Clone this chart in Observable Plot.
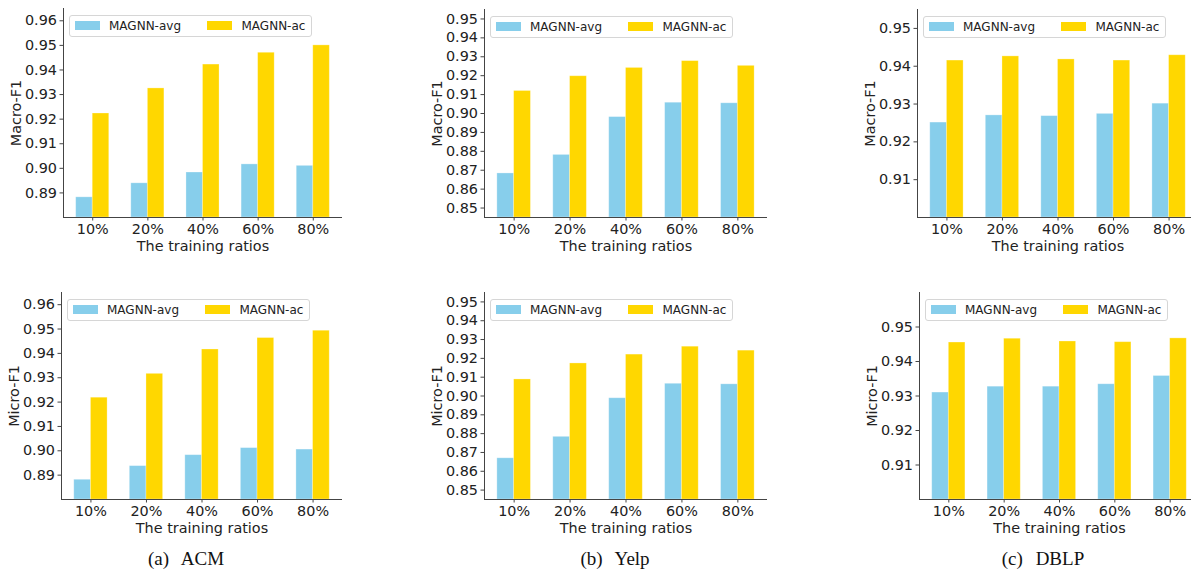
<!DOCTYPE html>
<html>
<head>
<meta charset="utf-8">
<script src="https://cdn.jsdelivr.net/npm/d3@7"></script>
<script src="https://cdn.jsdelivr.net/npm/@observablehq/plot@0.6"></script>
<style>
html, body { margin: 0; padding: 0; background: #fff; overflow: hidden; }
#root { position: relative; width: 1191px; height: 569px; overflow: hidden; font-family: "DejaVu Sans", sans-serif; }
.panel { position: absolute; }
.panel svg { max-width: none !important; }
.legend { position: absolute; box-sizing: border-box; height: 22px; border: 1px solid #d6d6d6; border-radius: 3px;
  background: rgba(255,255,255,0.85); display: flex; align-items: center; font-size: 12px; color: #222;
  padding-left: 4.5px; padding-right: 6px; }
.sw { width: 25px; height: 8.5px; flex: none; }
.lab { margin-left: 9.5px; white-space: nowrap; }
.lab + .sw { margin-left: 26px; }
.caption { position: absolute; font-family: "Liberation Serif", "Times New Roman", serif; font-size: 19px; line-height: 17px;
  transform: translateX(-50%); white-space: nowrap; word-spacing: 8px; color: #111; }
</style>
</head>
<body>
<div id="root"></div>
<script>
// ---------- data ----------
const categories = ["10%", "20%", "40%", "60%", "80%"];
const seriesNames = ["MAGNN-avg", "MAGNN-ac"];
const seriesColors = ["#87CEEB", "#FFD700"];

const acmMacroAvg  = [0.8882, 0.8939, 0.8983, 0.9016, 0.9010];
const acmMacroAc   = [0.9223, 0.9325, 0.9422, 0.9470, 0.9500];
const acmMicroAvg  = [0.8881, 0.8937, 0.8982, 0.9011, 0.9005];
const acmMicroAc   = [0.9218, 0.9316, 0.9416, 0.9463, 0.9493];
const yelpMacroAvg = [0.8683, 0.8781, 0.8981, 0.9057, 0.9054];
const yelpMacroAc  = [0.9119, 0.9197, 0.9241, 0.9277, 0.9252];
const yelpMicroAvg = [0.8669, 0.8783, 0.8988, 0.9065, 0.9062];
const yelpMicroAc  = [0.9088, 0.9173, 0.9220, 0.9262, 0.9241];
const dblpMacroAvg = [0.9251, 0.9270, 0.9268, 0.9274, 0.9301];
const dblpMacroAc  = [0.9415, 0.9426, 0.9418, 0.9415, 0.9429];
const dblpMicroAvg = [0.9310, 0.9327, 0.9327, 0.9334, 0.9358];
const dblpMicroAc  = [0.9455, 0.9466, 0.9458, 0.9456, 0.9467];

const acmTicks  = [0.89, 0.90, 0.91, 0.92, 0.93, 0.94, 0.95, 0.96];
const yelpTicks = [0.85, 0.86, 0.87, 0.88, 0.89, 0.90, 0.91, 0.92, 0.93, 0.94, 0.95];
const dblpTicks = [0.91, 0.92, 0.93, 0.94, 0.95];

const xLabel = "The training ratios";
const captions = ["(a) ACM", "(b) Yelp", "(c) DBLP"];

// ---------- layout ----------
const panels = [
  {frame: [63, 8, 342, 217],   avg: acmMacroAvg,  ac: acmMacroAc,  yDomain: [0.88, 0.965], yTicks: acmTicks,  yLabel: "Macro-F1"},
  {frame: [484, 9, 767, 217],  avg: yelpMacroAvg, ac: yelpMacroAc, yDomain: [0.845, 0.955], yTicks: yelpTicks, yLabel: "Macro-F1"},
  {frame: [917, 9, 1198, 217], avg: dblpMacroAvg, ac: dblpMacroAc, yDomain: [0.90, 0.955], yTicks: dblpTicks, yLabel: "Macro-F1"},
  {frame: [61, 292, 342, 499], avg: acmMicroAvg,  ac: acmMicroAc,  yDomain: [0.88, 0.965], yTicks: acmTicks,  yLabel: "Micro-F1"},
  {frame: [484, 292, 767, 499],avg: yelpMicroAvg, ac: yelpMicroAc, yDomain: [0.845, 0.955], yTicks: yelpTicks, yLabel: "Micro-F1"},
  {frame: [919, 292, 1199, 499],avg: dblpMicroAvg, ac: dblpMicroAc, yDomain: [0.90, 0.96], yTicks: dblpTicks, yLabel: "Micro-F1"}
];
const captionCenters = [186, 615, 1043];

const barWidth = 0.3;
const xPad = 0.53;
const fontFamily = '"DejaVu Sans", sans-serif';
const root = document.getElementById("root");

function makePanel(cfg) {
  const mL = 70, mR = 10, mT = 8, mB = 45;
  const [x0, y0, x1, y1] = cfg.frame;
  const w = x1 - x0, h = y1 - y0;
  const rows = [];
  categories.forEach((c, i) => {
    rows.push({i, cat: c, s: 0, series: seriesNames[0], value: cfg.avg[i]});
    rows.push({i, cat: c, s: 1, series: seriesNames[1], value: cfg.ac[i]});
  });
  const ymin = cfg.yDomain[0];
  const xmin = -xPad;
  const chart = Plot.plot({
    width: w + mL + mR,
    height: h + mT + mB,
    marginLeft: mL, marginRight: mR, marginTop: mT, marginBottom: mB,
    style: {fontFamily, fontSize: "14.4px", color: "#222", background: "transparent", overflow: "visible", maxWidth: "none"},
    x: {domain: [xmin, categories.length - 1 + xPad], label: null},
    y: {domain: cfg.yDomain, label: null},
    color: {domain: seriesNames, range: seriesColors},
    marks: [
      Plot.rectY(rows, {
        x1: d => d.i + (d.s - 1) * barWidth,
        x2: d => d.i + d.s * barWidth,
        y1: () => ymin,
        y2: "value",
        fill: "series",
        stroke: "white",
        strokeOpacity: 0.35,
        strokeWidth: 0.8
      }),
      Plot.ruleX([xmin], {stroke: "#444", strokeWidth: 1}),
      Plot.ruleY([ymin], {stroke: "#444", strokeWidth: 1}),
      Plot.axisX({ticks: d3.range(categories.length), tickFormat: i => categories[i], tickSize: 3.5, tickPadding: 2.5,
        label: null, fontSize: 14.4, stroke: "#444"}),
      Plot.axisY({ticks: cfg.yTicks, tickFormat: d3.format(".2f"), tickSize: 3.5, tickPadding: 3,
        label: null, fontSize: 14.4, stroke: "#444"}),
      Plot.text([cfg.yLabel], {frameAnchor: "left", rotate: -90, dx: -47.5, textAnchor: "middle", lineAnchor: "middle",
        fontSize: 14.4, fill: "#222"}),
      Plot.text([xLabel], {frameAnchor: "bottom", dy: 29, textAnchor: "middle", lineAnchor: "middle",
        fontSize: 14.4, fill: "#222"})
    ]
  });
  chart.style.maxWidth = "none";
  const wrap = document.createElement("div");
  wrap.className = "panel";
  wrap.style.left = (x0 - mL) + "px";
  wrap.style.top = (y0 - mT) + "px";
  wrap.style.width = (w + mL + mR) + "px";
  wrap.appendChild(chart);
  root.appendChild(wrap);

  const lg = document.createElement("div");
  lg.className = "legend";
  lg.style.left = (x0 + 6) + "px";
  lg.style.top = (y0 + 6.5) + "px";
  seriesNames.forEach((n, k) => {
    const sw = document.createElement("span");
    sw.className = "sw";
    sw.style.background = seriesColors[k];
    const lab = document.createElement("span");
    lab.className = "lab";
    lab.textContent = n;
    lg.appendChild(sw);
    lg.appendChild(lab);
  });
  root.appendChild(lg);
}

panels.forEach(makePanel);

captions.forEach((c, k) => {
  const d = document.createElement("div");
  d.className = "caption";
  d.style.left = captionCenters[k] + "px";
  d.style.top = "550px";
  d.textContent = c;
  root.appendChild(d);
});
</script>
</body>
</html>
